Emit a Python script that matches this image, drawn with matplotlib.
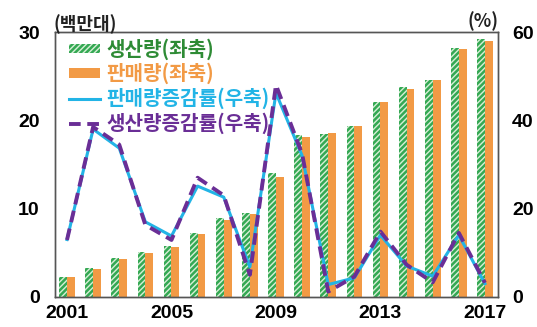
import matplotlib
matplotlib.use("Agg")
import matplotlib.pyplot as plt
from matplotlib.patches import Patch
from matplotlib.lines import Line2D
import numpy as np

plt.rcParams['font.family'] = ['Noto Sans CJK KR', 'DejaVu Sans']
plt.rcParams['hatch.linewidth'] = 1.8

years = list(range(2001, 2018))
production = [2.3, 3.3, 4.4, 5.1, 5.8, 7.2, 8.9, 9.5, 14.0, 18.3, 18.5, 19.4, 22.1, 23.8, 24.6, 28.2, 29.2]
sales = [2.2, 3.2, 4.3, 5.0, 5.7, 7.1, 8.7, 9.4, 13.6, 18.1, 18.6, 19.4, 22.1, 23.6, 24.6, 28.1, 29.0]
sales_growth = [13.0, 38.0, 33.7, 17.0, 13.8, 25.1, 22.6, 6.8, 46.2, 32.0, 2.8, 4.3, 14.0, 7.0, 4.7, 14.0, 3.0]
prod_growth = [12.9, 38.5, 34.5, 16.3, 12.9, 27.0, 23.0, 5.0, 48.0, 32.4, 1.2, 4.6, 14.8, 7.3, 3.3, 14.5, 3.2]
xtick_years = [2001, 2005, 2009, 2013, 2017]

c_green = '#34a853'
c_green_txt = '#2e8b35'
c_orange = '#f29a45'
c_cyan = '#22b4e6'
c_purple = '#6a2e96'
c_green_face = '#d6efd6'

fig = plt.figure(figsize=(5.37, 3.27), dpi=100)
ax = fig.add_axes([0.1024, 0.092, 0.825, 0.81])
ax2 = ax.twinx()

x = np.arange(len(years))
w = 0.3
ax.bar(x - w / 2, production, width=w, facecolor=c_green_face, edgecolor=c_green,
       hatch='//////', linewidth=0, zorder=2)
ax.bar(x + w / 2, sales, width=w, color=c_orange, linewidth=0, zorder=2)

ax2.plot(x, sales_growth, color=c_cyan, lw=2.2, zorder=3)
ax2.plot(x, prod_growth, color=c_purple, lw=2.8, dashes=(3.0, 1.7), zorder=4)

ax.set_xlim(-0.46, 16.5)
ax.set_ylim(0, 30)
ax2.set_ylim(0, 60)
ax.set_yticks([0, 10, 20, 30])
ax2.set_yticks([0, 20, 40, 60])
ax.set_xticks([years.index(y) for y in xtick_years])
ax.set_xticklabels([str(y) for y in xtick_years])

for lab in ax.get_xticklabels() + ax.get_yticklabels() + ax2.get_yticklabels():
    lab.set_fontfamily('Liberation Sans')
    lab.set_fontweight('bold')
    lab.set_fontsize(14)
ax.tick_params(axis='y', length=0, pad=11)
ax.tick_params(axis='x', length=0, pad=6)
ax2.tick_params(axis='y', length=0, pad=10)

for a in (ax, ax2):
    for s in a.spines.values():
        s.set_color('#555555')
        s.set_linewidth(1.0)

fig.text(0.1, 0.897, '(백만대)', fontsize=13, fontweight='bold', color='#222222', ha='left', va='bottom')
fig.text(0.929, 0.905, '(%)', fontsize=13, fontweight='bold', color='#222222', ha='right', va='bottom')

handles = [
    Patch(facecolor=c_green_face, edgecolor=c_green, hatch='//////', linewidth=0),
    Patch(facecolor=c_orange, linewidth=0),
    Line2D([], [], color=c_cyan, lw=2.2),
    Line2D([], [], color=c_purple, lw=2.8, dashes=(3.0, 1.7)),
]
labels = ['생산량(좌축)', '판매량(좌축)', '판매량증감률(우축)', '생산량증감률(우축)']
leg = ax2.legend(handles, labels, loc='upper left', bbox_to_anchor=(0.0, 1.03),
                 frameon=False, prop={'weight': 'bold', 'size': 14.5},
                 handlelength=1.55, handleheight=0.35, handletextpad=0.3,
                 labelspacing=0.15, borderaxespad=0.3)
for txt, col in zip(leg.get_texts(), [c_green_txt, c_orange, c_cyan, c_purple]):
    txt.set_color(col)

fig.savefig('out.png', dpi=100)
